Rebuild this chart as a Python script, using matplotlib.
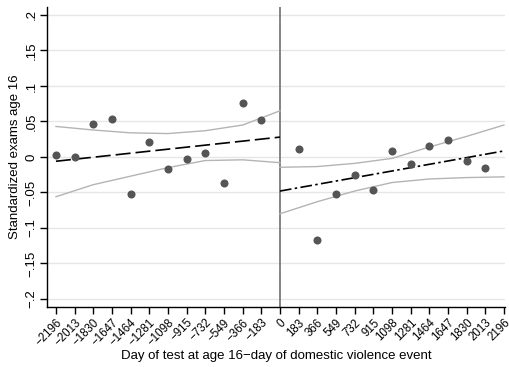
import matplotlib
matplotlib.use("Agg")
import matplotlib.pyplot as plt
import numpy as np

plt.rcParams['font.family'] = ['Liberation Sans', 'DejaVu Sans']

# binned means, before and after the event (days)
days_pre = [-2196, -2013, -1830, -1647, -1464, -1281, -1098, -915, -732, -549, -366, -183]
score_pre = [0.003, 0.000, 0.046, 0.053, -0.052, 0.021, -0.017, -0.003, 0.006, -0.036, 0.076, 0.052]
days_post = [183, 366, 549, 732, 915, 1098, 1281, 1464, 1647, 1830, 2013]
score_post = [0.011, -0.117, -0.052, -0.026, -0.047, 0.009, -0.010, 0.016, 0.024, -0.006, -0.016]

# linear fits (endpoints) and 95% bands
fit_x_pre = [-2196, 0]
fit_y_pre = [-0.006, 0.028]
fit_x_post = [0, 2196]
fit_y_post = [-0.048, 0.0085]

band_x_pre = [-2196, -1830, -1464, -1098, -732, -366, 0]
band_hi_pre = [0.043, 0.038, 0.034, 0.033, 0.037, 0.045, 0.065]
band_lo_pre = [-0.056, -0.039, -0.027, -0.015, -0.005, -0.004, -0.008]
band_x_post = [0, 366, 732, 1098, 1464, 1830, 2196]
band_hi_post = [-0.0145, -0.0135, -0.009, -0.002, 0.014, 0.029, 0.045]
band_lo_post = [-0.080, -0.063, -0.048, -0.036, -0.031, -0.029, -0.028]

xticks = list(range(-2196, 2197, 183))
yticks = [-0.2, -0.15, -0.1, -0.05, 0, 0.05, 0.1, 0.15, 0.2]
ylabels = ['\u2212.2', '\u2212.15', '\u2212.1', '\u2212.05', '0', '.05', '.1', '.15', '.2']

fig = plt.figure(figsize=(5.09, 3.67), dpi=100)
ax = fig.add_axes([0.0923, 0.1635, 0.8997, 0.8175])

band_col = '#b4b4b4'
ax.plot(band_x_pre, band_hi_pre, color=band_col, lw=1.0, zorder=2)
ax.plot(band_x_pre, band_lo_pre, color=band_col, lw=1.0, zorder=2)
ax.plot(band_x_post, band_hi_post, color=band_col, lw=1.0, zorder=2)
ax.plot(band_x_post, band_lo_post, color=band_col, lw=1.0, zorder=2)

ax.plot(fit_x_pre, fit_y_pre, color='black', lw=1.2, dashes=(9, 3), zorder=3)
ax.plot(fit_x_post, fit_y_post, color='black', lw=1.2, dashes=(7, 2, 1.5, 2), zorder=3)

ax.plot(days_pre, score_pre, 'o', color='#555555', ms=5.8, mew=0, zorder=4)
ax.plot(days_post, score_post, 'o', color='#555555', ms=5.8, mew=0, zorder=4)

ax.axvline(0, color='#707070', lw=1.2, zorder=1)

ax.set_xlim(-2284, 2206)
ax.set_ylim(-0.2113, 0.2113)

ax.set_yticks(yticks)
ax.set_yticklabels(ylabels, rotation=90, va='center', fontsize=9.5)
ax.set_xticks(xticks)
ax.set_xticklabels([str(t).replace('-', '\u2212') for t in xticks],
                   rotation=45, ha='right', va='top', rotation_mode='anchor', fontsize=8.3)
ax.tick_params(axis='both', length=5, width=1, color='black')
ax.tick_params(axis='x', pad=2)
ax.tick_params(axis='y', pad=2)

ax.grid(axis='y', color='#e6e6e6', lw=1.0, zorder=0)
ax.set_axisbelow(True)
for s in ['top', 'right']:
    ax.spines[s].set_visible(False)
for s in ['left', 'bottom']:
    ax.spines[s].set_linewidth(1.0)

ax.set_xlabel('Day of test at age 16\u2212day of domestic violence event', fontsize=9.5, labelpad=1)
ax.set_ylabel('Standardized exams age 16', fontsize=9.5, labelpad=3)

fig.savefig('out.png', dpi=100)
